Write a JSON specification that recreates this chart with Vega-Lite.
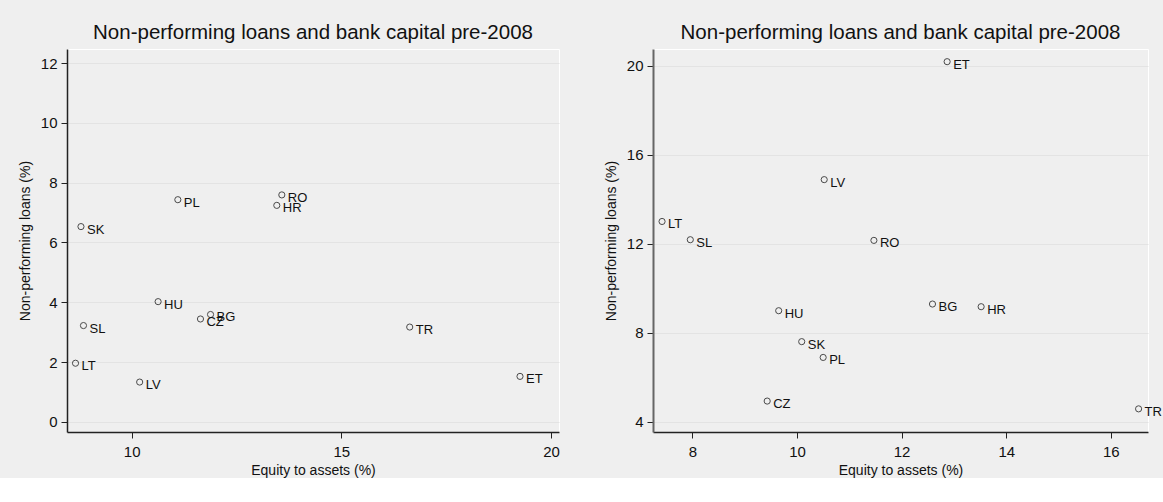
{
  "$schema": "https://vega.github.io/schema/vega-lite/v6.json",
  "background": "#efefef",
  "padding": {"left": 17, "top": 22, "right": 0, "bottom": 0},
  "datasets": {
    "pre": [
      {"country": "RO", "equity": 13.58, "npl": 7.59},
      {"country": "HR", "equity": 13.46, "npl": 7.24},
      {"country": "PL", "equity": 11.10, "npl": 7.43},
      {"country": "SK", "equity": 8.79, "npl": 6.53},
      {"country": "HU", "equity": 10.63, "npl": 4.02},
      {"country": "BG", "equity": 11.88, "npl": 3.59},
      {"country": "CZ", "equity": 11.64, "npl": 3.44},
      {"country": "SL", "equity": 8.85, "npl": 3.22},
      {"country": "TR", "equity": 16.63, "npl": 3.17},
      {"country": "LT", "equity": 8.66, "npl": 1.96},
      {"country": "LV", "equity": 10.19, "npl": 1.33},
      {"country": "ET", "equity": 19.26, "npl": 1.52}
    ],
    "post": [
      {"country": "ET", "equity": 12.87, "npl": 20.18},
      {"country": "LV", "equity": 10.52, "npl": 14.88},
      {"country": "LT", "equity": 7.42, "npl": 13.00},
      {"country": "SL", "equity": 7.96, "npl": 12.18},
      {"country": "RO", "equity": 11.47, "npl": 12.15},
      {"country": "HU", "equity": 9.65, "npl": 8.99},
      {"country": "BG", "equity": 12.59, "npl": 9.29},
      {"country": "HR", "equity": 13.52, "npl": 9.17},
      {"country": "SK", "equity": 10.09, "npl": 7.60},
      {"country": "PL", "equity": 10.50, "npl": 6.89},
      {"country": "CZ", "equity": 9.43, "npl": 4.93},
      {"country": "TR", "equity": 16.53, "npl": 4.58}
    ]
  },
  "hconcat": [
    {
      "width": 492,
      "height": 383,
      "data": {"name": "pre"},
      "title": {"text": "Non-performing loans and bank capital pre-2008", "frame": "group", "anchor": "middle"},
      "encoding": {
        "x": {"field": "equity", "type": "quantitative", "title": "Equity to assets (%)",
              "scale": {"domain": [8.457, 20.19], "nice": false, "zero": false},
              "axis": {"values": [10, 15, 20]}},
        "y": {"field": "npl", "type": "quantitative", "title": "Non-performing loans (%)",
              "scale": {"domain": [-0.34, 12.47], "nice": false, "zero": false},
              "axis": {"values": [0, 2, 4, 6, 8, 10, 12]}}
      },
      "layer": [
        {"mark": {"type": "point", "shape": "circle", "filled": false, "size": 38, "stroke": "#4a4a4a", "strokeWidth": 1, "opacity": 1}},
        {"mark": {"type": "text", "align": "left", "baseline": "middle", "dx": 6, "dy": 3, "fontSize": 13, "font": "Liberation Sans", "color": "#111"},
         "encoding": {"text": {"field": "country"}}}
      ]
    },
    {
      "width": 495,
      "height": 383,
      "data": {"name": "post"},
      "title": {"text": "Non-performing loans and bank capital pre-2008", "frame": "group", "anchor": "middle"},
      "encoding": {
        "x": {"field": "equity", "type": "quantitative", "title": "Equity to assets (%)",
              "scale": {"domain": [7.247, 16.71], "nice": false, "zero": false},
              "axis": {"values": [8, 10, 12, 14, 16]}},
        "y": {"field": "npl", "type": "quantitative", "title": "Non-performing loans (%)",
              "scale": {"domain": [3.54, 20.75], "nice": false, "zero": false},
              "axis": {"values": [4, 8, 12, 16, 20], "domainColor": "#666", "domainWidth": 2}}
      },
      "layer": [
        {"mark": {"type": "point", "shape": "circle", "filled": false, "size": 38, "stroke": "#4a4a4a", "strokeWidth": 1, "opacity": 1}},
        {"mark": {"type": "text", "align": "left", "baseline": "middle", "dx": 6, "dy": 3, "fontSize": 13, "font": "Liberation Sans", "color": "#111"},
         "encoding": {"text": {"field": "country"}}}
      ]
    }
  ],
  "spacing": 94,
  "bounds": "flush",
  "config": {
    "font": "Liberation Sans",
    "view": {"fill": "#efefef", "stroke": "#ffffff", "strokeWidth": 1},
    "title": {"fontSize": 20.5, "fontWeight": "normal", "color": "#111", "offset": 6},
    "axis": {
      "domainColor": "#222", "domainWidth": 1.5, "tickColor": "#222", "tickSize": 6,
      "labelFontSize": 15, "labelColor": "#111", "titleFontSize": 14, "titleFontWeight": "normal", "titleColor": "#111",
      "grid": false
    },
    "axisX": {"labelPadding": 6, "titlePadding": 4},
    "axisY": {"grid": true, "gridColor": "#e3e3e3", "gridWidth": 1, "labelPadding": 4, "titlePadding": 8}
  }
}
